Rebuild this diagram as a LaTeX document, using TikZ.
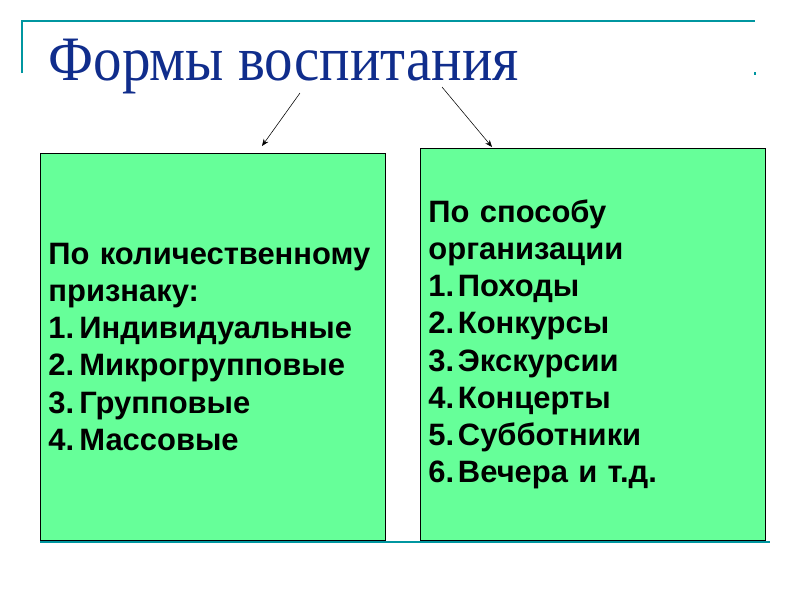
\documentclass[tikz,border=0pt]{standalone}
\usepackage{fontspec}
\setmainfont{Liberation Serif}
\newfontfamily\boxfont{Liberation Sans}
\usetikzlibrary{arrows.meta}
\definecolor{boxgreen}{RGB}{102,255,153}
\definecolor{titleblue}{RGB}{16,45,140}
\definecolor{framerule}{RGB}{0,150,160}
\newcommand{\itm}[2]{\makebox[#1][l]{#2}}

\begin{document}
\begin{tikzpicture}[x=0.025cm,y=-0.025cm,line width=0.3mm,
    formbox/.style={draw,fill=boxgreen,line width=0.6pt,anchor=north west,
      align=left,text width=234pt,inner xsep=5.7pt,
      font=\boxfont\bfseries\fontsize{22}{26.5}\selectfont},
    arr/.style={-{Stealth[length=5pt,width=4pt]},line width=0.4pt}]
  \useasboundingbox (0,0) rectangle (800,600);

  % slide frame
  \draw[framerule,line width=1.5pt] (22,73) -- (22,21) -- (755,21);
  \fill[framerule] (754,72) rectangle (756,75);
  \draw[framerule,line width=2pt] (40,542) -- (770,542);

  \node[anchor=base west,inner sep=0,text=titleblue,
        font=\fontsize{45}{45}\selectfont] (title) at (48,80)
    {\scalebox{0.9}[1]{Формы воспитания}};

  \node[formbox,minimum height=275pt] (count) at (40,153)
    {По количественному\\признаку:\\
     \itm{22pt}{1.}Индивидуальные\\
     \itm{22pt}{2.}Микрогрупповые\\
     \itm{22pt}{3.}Групповые\\
     \itm{22pt}{4.}Массовые};
  \node[formbox,minimum height=278.6pt] (organ) at (420,148)
    {По способу\\организации\\
     \itm{21pt}{1.}Походы\\
     \itm{21pt}{2.}Конкурсы\\
     \itm{21pt}{3.}Экскурсии\\
     \itm{21pt}{4.}Концерты\\
     \itm{21pt}{5.}Субботники\\
     \itm{21pt}{6.}Вечера и т.д.};

  \coordinate (l0) at (300,93);
  \coordinate (l1) at (262,146);
  \coordinate (r0) at (442,87);
  \coordinate (r1) at (492,147);
  \draw[arr] (l0) -- (l1);
  \draw[arr] (r0) -- (r1);
\end{tikzpicture}
\end{document}
